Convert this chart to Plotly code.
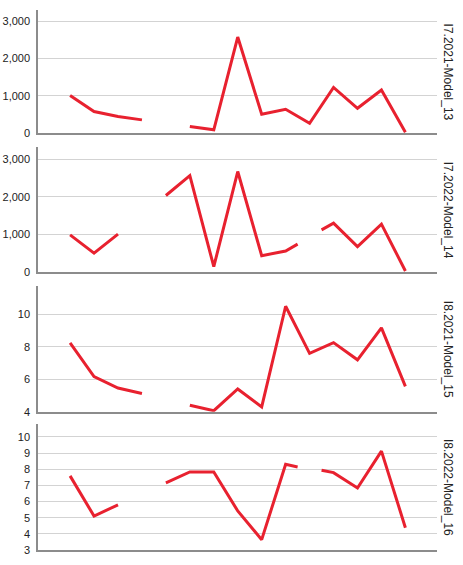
import plotly.graph_objects as go
from plotly.subplots import make_subplots

# x positions along the shared axis (None values break the line)
period_a = [0, 1, 2, 3, 4, 5, 6, 7, 8, 9, 10, 11, 12, 13, 14]
period_b = [0, 1, 2, 3, 4, 5, 6, 7, 8, 9, 9.5, 10, 10.5, 11, 12, 13, 14]

model_13 = [1010, 580, 445, 355, None, 178, 90, 2575, 505, 640, 265, 1225, 665, 1155, 25]
model_14 = [990, 505, 1010, None, 2035, 2560, 150, 2670, 440, 565, 745, None, 1125, 1300, 680, 1275, 35]
model_15 = [8.24, 6.17, 5.46, 5.12, None, 4.4, 4.06, 5.4, 4.3, 10.5, 7.6, 8.26, 7.2, 9.17, 5.56]
model_16 = [7.59, 5.1, 5.8, None, 7.15, 7.83, 7.83, 5.42, 3.64, 8.31, 8.14, None, 7.94, 7.79, 6.84, 9.12, 4.38]

panel_titles = ["I7.2021-Model_13", "I7.2022-Model_14", "I8.2021-Model_15", "I8.2022-Model_16"]

panels = [
    (period_a, model_13, [0, 3300], [0, 1000, 2000, 3000]),
    (period_b, model_14, [0, 3320], [0, 1000, 2000, 3000]),
    (period_a, model_15, [4, 11.75], [4, 6, 8, 10]),
    (period_b, model_16, [3, 10.8], [3, 4, 5, 6, 7, 8, 9, 10]),
]
domains = [[0.772, 1.0], [0.5143, 0.7463], [0.2561, 0.4889], [0.0, 0.2333]]

red = "#e8212f"
axis_grey = "#8c8c8c"
grid_grey = "#d3d3d3"

fig = make_subplots(rows=4, cols=1, shared_xaxes=True, vertical_spacing=0.02)

for i, (xs, ys, yrange, ticks) in enumerate(panels):
    row = i + 1
    fig.add_trace(go.Scatter(x=xs, y=ys, mode="lines", connectgaps=False,
                             line=dict(color=red, width=3), showlegend=False),
                  row=row, col=1)
    fig.update_yaxes(range=yrange, tickvals=ticks, tickformat=",",
                     domain=domains[i], showline=True, linecolor=axis_grey, linewidth=1.5,
                     showgrid=True, gridcolor=grid_grey, gridwidth=1, zeroline=False,
                     ticks="", ticklabelstandoff=4, automargin=False,
                     tickfont=dict(size=11, color="#222222"),
                     row=row, col=1)
    fig.update_xaxes(range=[-1.34, 15.32], showline=True, linecolor=axis_grey, linewidth=1.5,
                     showgrid=False, zeroline=False, showticklabels=False, ticks="",
                     automargin=False, row=row, col=1)
    yref = "y domain" if i == 0 else f"y{row} domain"
    fig.add_annotation(text=panel_titles[i], textangle=90, xref="paper", yref=yref,
                       x=1.0, y=0.5, xanchor="center", yanchor="middle", xshift=11,
                       showarrow=False, font=dict(size=12, color="#222222"))

fig.update_layout(width=463, height=565, margin=dict(l=38, r=26, t=10, b=15),
                  plot_bgcolor="white", paper_bgcolor="white",
                  font=dict(family="Liberation Sans, Arial, sans-serif"))

# drop the default 8px body margin so the figure fills the window
fig.write_html("out.html", config={"displayModeBar": False},
               post_script="document.body.style.margin = '0';")
